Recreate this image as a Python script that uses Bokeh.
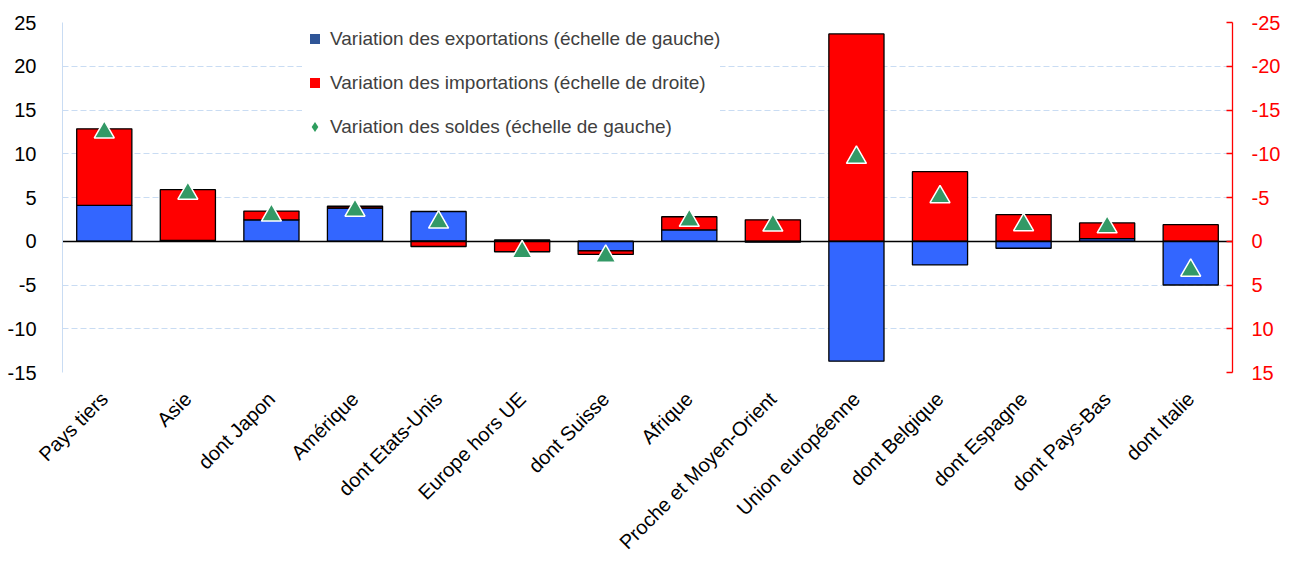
import math
from bokeh.plotting import figure
from bokeh.models import (ColumnDataSource, Range1d, LinearAxis, FixedTicker,
                          Legend, LegendItem, FactorRange, PrintfTickFormatter)
from bokeh.transform import dodge
from bokeh.embed import file_html
from bokeh.resources import INLINE

# ---------------- data ----------------
categories = ["Pays tiers", "Asie", "dont Japon", "Amérique", "dont Etats-Unis",
              "Europe hors UE", "dont Suisse", "Afrique", "Proche et Moyen-Orient",
              "Union européenne", "dont Belgique", "dont Espagne", "dont Pays-Bas",
              "dont Italie"]
# variation des exportations (left scale)
exports = [4.1, 0.1, 2.45, 3.8, 3.4, 0.15, -1.1, 1.3, -0.1, -13.7, -2.7, -0.8, 0.3, -5.0]
# variation des importations (right scale, inverted)
imports = [-8.75, -5.8, -1.0, -0.2, 0.6, 1.2, 0.4, -1.5, -2.45, -23.7, -7.95, -3.05, -1.8, -1.9]
# variation des soldes (left scale)
soldes = [12.8, 5.8, 3.3, 3.85, 2.5, -0.9, -1.4, 2.7, 2.15, 9.9, 5.4, 2.2, 1.95, -3.0]

left_ticks = [-15, -10, -5, 0, 5, 10, 15, 20, 25]
right_ticks = [15, 10, 5, 0, -5, -10, -15, -20, -25]

# stacking (imports drawn on an inverted scale, stacked on exports when same sign)
disp_imp = [-v for v in imports]
red_bottom, red_top = [], []
for e, d in zip(exports, disp_imp):
    if e != 0 and (e > 0) == (d > 0):
        red_bottom.append(e)
        red_top.append(e + d)
    else:
        red_bottom.append(0)
        red_top.append(d)

src = ColumnDataSource(dict(cat=categories, exp=exports, rb=red_bottom, rt=red_top,
                            sol=soldes, zero=[0] * len(categories)))

FONT = "Liberation Sans"

p = figure(x_range=FactorRange(*categories), y_range=Range1d(-15, 25),
           frame_width=1170, frame_height=350,
           min_border_left=62, min_border_top=22, min_border_right=0, min_border_bottom=0,
           output_backend="svg", toolbar_location=None, background_fill_color="white")
p.outline_line_color = None
p.extra_y_ranges = {"right": Range1d(15, -25)}

# bars
p.vbar(x="cat", top="exp", bottom="zero", width=0.66, source=src,
       fill_color="#3366FF", line_color="black", line_width=1.3)
p.vbar(x="cat", top="rt", bottom="rb", width=0.66, source=src,
       fill_color="#FF0000", line_color="black", line_width=1.3)
# zero line
p.hspan(y=[0], line_color="black", line_width=1.4)
# soldes
p.scatter(x="cat", y=dodge("sol", -0.33), source=src, marker="triangle", size=20,
          fill_color="#339966", line_color="white", line_width=1.5)

# axes
p.yaxis.ticker = FixedTicker(ticks=left_ticks)
p.yaxis.formatter = PrintfTickFormatter(format="%d")
p.yaxis.axis_line_color = "#C9DCF3"
p.yaxis.major_tick_line_color = None
p.yaxis.minor_tick_line_color = None
p.yaxis.major_label_text_font = FONT
p.yaxis.major_label_text_font_size = "20px"
p.yaxis.major_label_text_color = "black"
p.yaxis.major_label_standoff = 20

ax_r = LinearAxis(y_range_name="right", ticker=FixedTicker(ticks=right_ticks),
                  formatter=PrintfTickFormatter(format="%d"))
ax_r.axis_line_color = "red"
ax_r.axis_line_width = 1.3
ax_r.major_tick_line_color = "red"
ax_r.major_tick_line_width = 1.3
ax_r.major_tick_in = 6
ax_r.major_tick_out = 0
ax_r.minor_tick_line_color = None
ax_r.major_label_text_font = FONT
ax_r.major_label_text_font_size = "20px"
ax_r.major_label_text_color = "red"
ax_r.major_label_standoff = 19
p.add_layout(ax_r, "right")

p.xaxis.axis_line_color = None
p.xaxis.major_tick_line_color = None
p.xaxis.minor_tick_line_color = None
p.xaxis.major_label_orientation = math.pi / 4
p.xaxis.major_label_text_font = FONT
p.xaxis.major_label_text_font_size = "20px"
p.xaxis.major_label_text_color = "black"
p.xaxis.major_label_standoff = 17

p.xgrid.grid_line_color = None
p.ygrid.ticker = FixedTicker(ticks=left_ticks)
p.ygrid.grid_line_color = "#C9DCF3"
p.ygrid.grid_line_dash = "6 3"
p.ygrid.grid_line_width = 1.2

# legend (hidden one-point renderers that only supply legend glyphs)
nan = float("nan")
dummy = ColumnDataSource(dict(x=[categories[0]], y=[nan]))
r1 = p.scatter(x="x", y="y", source=dummy, marker="square", fill_color="#2F5597", line_color=None)
r2 = p.scatter(x="x", y="y", source=dummy, marker="square", fill_color="#FF0000", line_color=None)
r3 = p.scatter(x="x", y="y", source=dummy, marker="diamond", fill_color="#2E9E5E", line_color=None)
legend = Legend(items=[
    LegendItem(label="Variation des exportations (échelle de gauche)", renderers=[r1]),
    LegendItem(label="Variation des importations (échelle de droite)", renderers=[r2]),
    LegendItem(label="Variation des soldes (échelle de gauche)", renderers=[r3]),
], location=(240, 233), orientation="vertical")
legend.glyph_width = 25
legend.glyph_height = 25
legend.label_height = 25
legend.spacing = 19
legend.padding = 9
legend.margin = 0
legend.label_standoff = 3
legend.label_text_font = FONT
legend.label_text_font_size = "19px"
legend.label_text_color = "#404040"
legend.background_fill_color = "white"
legend.background_fill_alpha = 1.0
legend.border_line_color = None
p.add_layout(legend)

open("out.html", "w").write(file_html(p, INLINE))
